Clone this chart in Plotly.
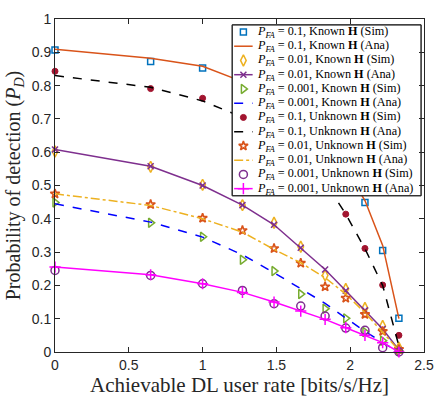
import plotly.graph_objects as go

# ---- data ----
x_rate = [0, 0.648, 1.0, 1.27, 1.484, 1.665, 1.83, 1.97, 2.10, 2.22, 2.33]

known01_sim = [0.907, 0.872, 0.853, 0.80, 0.75, 0.69, 0.62, 0.54, 0.449, 0.305, 0.101]
known01_ana = [0.909, 0.882, 0.858, 0.812, 0.762, 0.70, 0.63, 0.55, 0.455, 0.32, 0.10]
known001_sim = [0.602, 0.556, 0.502, 0.441, 0.388, 0.316, 0.230, 0.189, 0.132, 0.078, 0.013]
known001_ana = [0.608, 0.558, 0.500, 0.441, 0.382, 0.313, 0.248, 0.184, 0.125, 0.069, 0.006]
known0001_sim = [0.449, 0.388, 0.346, 0.277, 0.243, 0.174, 0.130, 0.101, 0.060, 0.034, 0.003]
known0001_ana = [0.445, 0.390, 0.345, 0.292, 0.238, 0.190, 0.146, 0.102, 0.062, 0.028, 0.0]
unknown01_sim = [0.843, 0.791, 0.762, 0.70, 0.65, 0.585, 0.51, 0.414, 0.311, 0.201, 0.050]
unknown01_ana = [0.830, 0.795, 0.754, 0.705, 0.655, 0.59, 0.51, 0.414, 0.31, 0.20, 0.018]
unknown001_sim = [0.475, 0.443, 0.402, 0.365, 0.311, 0.267, 0.196, 0.162, 0.113, 0.062, 0.008]
unknown001_ana = [0.475, 0.440, 0.400, 0.360, 0.308, 0.268, 0.223, 0.174, 0.118, 0.058, 0.005]
unknown0001_sim = [0.245, 0.230, 0.205, 0.185, 0.145, 0.138, 0.108, 0.072, 0.065, 0.013, 0.0]
unknown0001_ana = [0.255, 0.232, 0.205, 0.179, 0.150, 0.123, 0.098, 0.073, 0.050, 0.028, 0.0]

x_ticks = [0, 0.5, 1, 1.5, 2, 2.5]
y_ticks = [0, 0.1, 0.2, 0.3, 0.4, 0.5, 0.6, 0.7, 0.8, 0.9, 1]

PFA = "<i>P</i><sub><i>FA</i></sub>"
def lab(p, k, t):
    return f"{PFA} = {p}, {k} <b>H</b> ({t})"

series = [
    (known01_sim, lab("0.1", "Known", "Sim"), dict(mode="markers", marker=dict(symbol="square-open", size=6, color="#0072BD", line=dict(width=1.5)))),
    (known01_ana, lab("0.1", "Known", "Ana"), dict(mode="lines", line=dict(color="#D95319", width=1.5))),
    (known001_sim, lab("0.01", "Known", "Sim"), dict(mode="markers", marker=dict(symbol="diamond-tall-open", size=8, color="#EDB120", line=dict(width=1.5)))),
    (known001_ana, lab("0.01", "Known", "Ana"), dict(mode="lines+markers", line=dict(color="#7E2F8E", width=1.5), marker=dict(symbol="x-thin-open", size=6, color="#7E2F8E", line=dict(width=1.5)))),
    (known0001_sim, lab("0.001", "Known", "Sim"), dict(mode="markers", marker=dict(symbol="triangle-right-open", size=8, color="#77AC30", line=dict(width=1.5)))),
    (known0001_ana, lab("0.001", "Known", "Ana"), dict(mode="lines", line=dict(color="#0000FF", width=1.5, dash="dash"))),
    (unknown01_sim, lab("0.1", "Unknown", "Sim"), dict(mode="markers", marker=dict(symbol="circle", size=6, color="#A2142F", line=dict(width=1, color="#A2142F")))),
    (unknown01_ana, lab("0.1", "Unknown", "Ana"), dict(mode="lines", line=dict(color="#000000", width=1.5, dash="dash"))),
    (unknown001_sim, lab("0.01", "Unknown", "Sim"), dict(mode="markers", marker=dict(symbol="star-open", size=7, color="#D95319", line=dict(width=1.6)))),
    (unknown001_ana, lab("0.01", "Unknown", "Ana"), dict(mode="lines", line=dict(color="#EDB120", width=1.5, dash="dashdot"))),
    (unknown0001_sim, lab("0.001", "Unknown", "Sim"), dict(mode="markers", marker=dict(symbol="circle-open", size=8, color="#7E2F8E", line=dict(width=1.5)))),
    (unknown0001_ana, lab("0.001", "Unknown", "Ana"), dict(mode="lines+markers", line=dict(color="#FF00FF", width=1.5), marker=dict(symbol="cross-thin-open", size=8, color="#FF00FF", line=dict(width=1.5)))),
]

# ---- layout geometry (pixels) ----
W, H = 445, 401
ML, MR, MT, MB = 55, 11, 12, 48
PW, PH = W - ML - MR, H - MT - MB
# legend box in plot-pixel units (origin = top-left of plot area)
LX0, LX1, LY0, LY1 = 182, 376, 6, 181
ROW = (LY1 - LY0) / len(series)
SX0, SX1, TX = LX0 + 2, LX0 + 21, LX0 + 23

fig = go.Figure()
for ys, name, style in series:
    fig.add_trace(go.Scatter(x=x_rate, y=ys, name=name, cliponaxis=False, showlegend=False, **style))

# legend (drawn on an overlay axis measured in plot pixels)
fig.add_trace(go.Scatter(x=[LX0, LX1, LX1, LX0, LX0], y=[LY0, LY0, LY1, LY1, LY0],
                         xaxis="x2", yaxis="y2", mode="lines", fill="toself",
                         fillcolor="white", line=dict(color="#262626", width=1),
                         hoverinfo="skip", showlegend=False))
annotations = []
for i, (ys, name, style) in enumerate(series):
    yc = LY0 + (i + 0.5) * ROW
    mode = style["mode"]
    if "lines" in mode:
        fig.add_trace(go.Scatter(x=[SX0, SX1], y=[yc, yc], xaxis="x2", yaxis="y2",
                                 mode="lines", line=style["line"], hoverinfo="skip", showlegend=False))
    if "markers" in mode:
        fig.add_trace(go.Scatter(x=[(SX0 + SX1) / 2], y=[yc], xaxis="x2", yaxis="y2",
                                 mode="markers", marker=style["marker"], hoverinfo="skip", showlegend=False))
    annotations.append(dict(x=TX, y=yc, xref="x2", yref="y2", text=name, showarrow=False,
                            xanchor="left", yanchor="middle",
                            font=dict(family="Liberation Serif, Times New Roman", size=12.2, color="#000000")))

axis_common = dict(showline=True, linecolor="#262626", linewidth=1, mirror="ticks",
                   ticks="inside", ticklen=5, tickcolor="#262626", showgrid=False, zeroline=False,
                   tickfont=dict(family="Liberation Sans, Arial", size=14, color="#262626"))

fig.update_layout(
    width=W, height=H,
    margin=dict(l=ML, r=MR, t=MT, b=MB),
    paper_bgcolor="white", plot_bgcolor="white",
    xaxis=dict(range=[0, 2.5], tickvals=x_ticks, ticktext=[f"{v:g}" for v in x_ticks],
               title=dict(text="Achievable DL user rate [bits/s/Hz]", standoff=3,
                          font=dict(family="Liberation Serif, Times New Roman", size=21, color="#262626")),
               **axis_common),
    yaxis=dict(range=[0, 1], tickvals=y_ticks, ticktext=[f"{v:g}" for v in y_ticks],
               title=dict(text="Probability of detection (<i>P<sub>D</sub></i>)", standoff=5,
                          font=dict(family="Liberation Serif, Times New Roman", size=20, color="#262626")),
               **axis_common),
    xaxis2=dict(range=[0, PW], overlaying="x", visible=False, fixedrange=True),
    yaxis2=dict(range=[PH, 0], overlaying="y", visible=False, fixedrange=True),
    annotations=annotations,
    shapes=[dict(type="rect", xref="x2", yref="y2", x0=LX0, x1=LX1, y0=LY0, y1=LY1,
                 line=dict(color="#262626", width=1), fillcolor="rgba(0,0,0,0)", layer="above")],
    showlegend=False,
)

fig.write_html("out.html")
